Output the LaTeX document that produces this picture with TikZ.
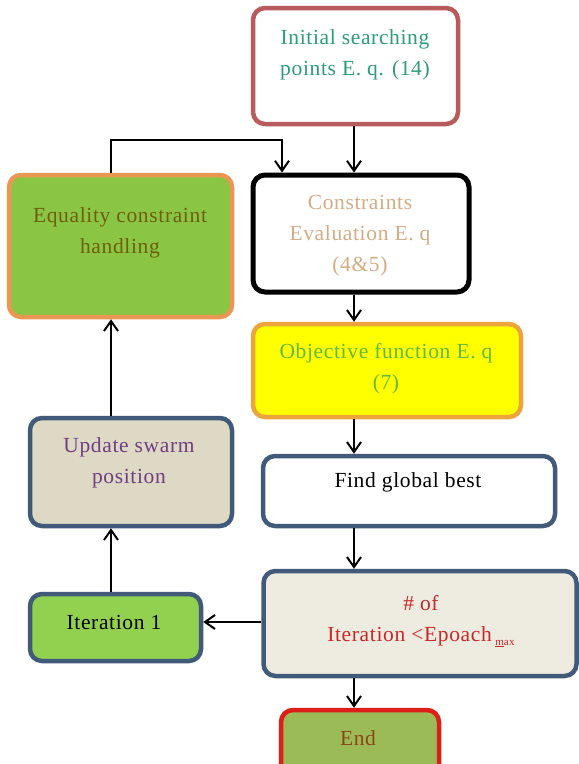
\documentclass[tikz,border=0pt]{standalone}
\usepackage{fontspec}
\setmainfont[LetterSpace=3]{Liberation Serif}
\usetikzlibrary{arrows.meta}
\definecolor{initB}{RGB}{185,90,92}
\definecolor{initT}{RGB}{45,155,125}
\definecolor{consT}{RGB}{212,172,132}
\definecolor{equF}{RGB}{138,198,68}
\definecolor{equB}{RGB}{232,152,82}
\definecolor{equT}{RGB}{110,95,10}
\definecolor{objF}{RGB}{255,255,0}
\definecolor{objB}{RGB}{236,165,60}
\definecolor{objT}{RGB}{100,185,60}
\definecolor{updF}{RGB}{221,217,196}
\definecolor{slate}{RGB}{66,90,122}
\definecolor{updT}{RGB}{112,62,132}
\definecolor{numF}{RGB}{238,236,225}
\definecolor{numT}{RGB}{200,40,40}
\definecolor{itF}{RGB}{146,208,80}
\definecolor{endF}{RGB}{155,187,89}
\definecolor{endB}{RGB}{222,30,25}
\definecolor{endT}{RGB}{140,70,20}
\tikzset{
  box/.style={rectangle, rounded corners=12pt, line width=4.5pt, inner sep=0pt},
  txt/.style={align=center, font=\fontsize{21.5}{31}\selectfont, inner sep=0pt},
  arr/.style={line width=2pt, -{Straight Barb[length=10pt,width=14pt,line width=2pt]}},
}
\begin{document}
\begin{tikzpicture}[x=1pt,y=-1pt]
\useasboundingbox (0,0) rectangle (579,764);
\clip (0,0) rectangle (579,764);
\fill[white] (0,0) rectangle (579,764);
% boxes
\node[box, draw=initB, fill=white, minimum width=205pt, minimum height=116pt] (init) at (355.5,66) {};
\node[box, draw=black, line width=5pt, fill=white, minimum width=216pt, minimum height=117pt] (cons) at (361,233.5) {};
\node[box, draw=equB, fill=equF, minimum width=223pt, minimum height=142pt] (equ) at (120.5,246) {};
\node[box, draw=objB, fill=objF, minimum width=268pt, minimum height=93pt] (obj) at (387,370.5) {};
\node[box, draw=slate, fill=updF, minimum width=202pt, minimum height=108pt] (upd) at (131,472) {};
\node[box, draw=slate, fill=white, minimum width=292pt, minimum height=70pt] (find) at (409,491) {};
\node[box, draw=slate, fill=numF, minimum width=313pt, minimum height=105pt] (num) at (420,623.5) {};
\node[box, draw=slate, fill=itF, minimum width=171pt, minimum height=67pt] (it1) at (115.5,627.5) {};
\node[box, draw=endB, fill=endF, minimum width=158pt, minimum height=70pt] (end) at (360,745) {};
% texts
\node[txt, text=initT] (initt) at (355,54.5) {Initial searching\\points E. q. (14)};
\node[txt, text=consT] (const) at (360,236) {Constraints\\Evaluation E. q\\(4\&5)};
\node[txt, text=equT] (equt) at (120,232.5) {Equality constraint\\handling};
\node[txt, text=objT] (objt) at (386,368.5) {Objective function E. q\\(7)};
\node[txt, text=updT] (updt) at (129,462.5) {Update swarm\\position};
\node[txt, text=black] (findt) at (408,482) {Find global best};
\node[txt, text=numT] (numt) at (421,621) {\# of\\Iteration <Epoach\,{\raisebox{-0.4ex}{\fontsize{11}{11}\selectfont\underline{m}ax}}};
\node[txt, text=black] (it1t) at (114,622) {Iteration 1};
\node[txt, text=endT] (endt) at (358,738) {End};
% connectors
\coordinate (colx) at (354,0);
\coordinate (lx) at (111,0);
\coordinate (loopL) at (111,140);
\coordinate (loopR) at (282,140);
\draw[arr] (colx |- init.south) -- (colx |- cons.north);
\draw[arr] (colx |- cons.south) -- (colx |- obj.north);
\draw[arr] (colx |- obj.south) -- (colx |- find.north);
\draw[arr] (colx |- find.south) -- (colx |- num.north);
\draw[arr] (colx |- num.south) -- (colx |- end.north);
\draw[arr] (num.west |- it1t) -- (it1.east |- it1t);
\draw[arr] (lx |- it1.north) -- (lx |- upd.south);
\draw[arr] (lx |- upd.north) -- (lx |- equ.south);
\draw[arr, line join=miter] (lx |- equ.north) -- (loopL) -- (loopR) -- (loopR |- cons.north);
\end{tikzpicture}
\end{document}
